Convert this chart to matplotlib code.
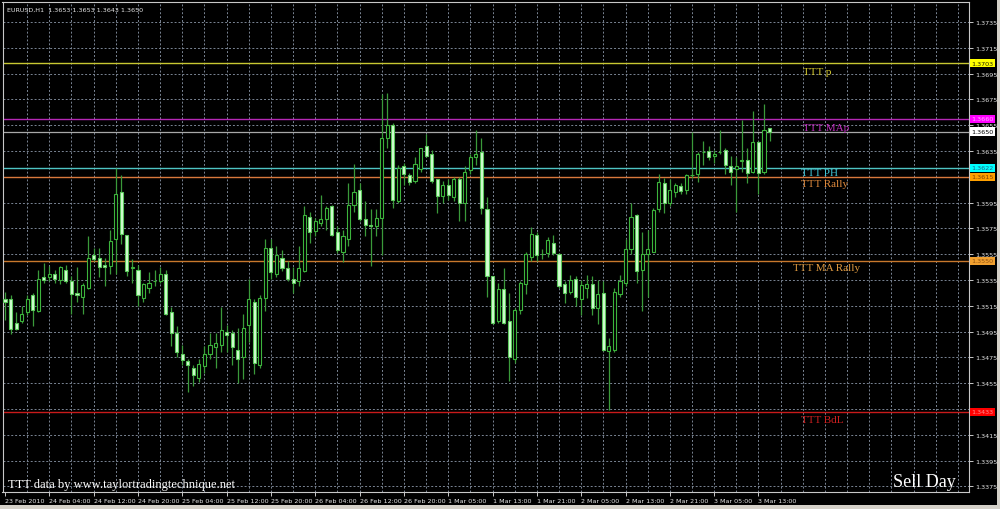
import matplotlib
matplotlib.use("Agg")
import matplotlib.pyplot as plt
import matplotlib.transforms as mtransforms
from matplotlib.patches import Rectangle

# EURUSD H1 bars (bar 0 = 23 Feb 20:00)
OPEN = [1.3520, 1.3520, 1.3502, 1.3503, 1.3510, 1.3523, 1.3511, 1.3537, 1.3537, 1.3540,
        1.3535, 1.3543, 1.3534, 1.3525, 1.3522, 1.3529, 1.3554, 1.3552, 1.3547, 1.3546,
        1.3567, 1.3603, 1.3570, 1.3544, 1.3543, 1.3521, 1.3529, 1.3534, 1.3534, 1.3540,
        1.3510, 1.3494, 1.3478, 1.3472, 1.3467, 1.3459, 1.3468, 1.3478, 1.3483, 1.3485,
        1.3495, 1.3494, 1.3481, 1.3475, 1.3500, 1.3518, 1.3469, 1.3521, 1.3560, 1.3540,
        1.3552, 1.3544, 1.3536, 1.3534, 1.3542, 1.3584, 1.3573, 1.3579, 1.3582, 1.3592,
        1.3572, 1.3557, 1.3567, 1.3593, 1.3605, 1.3582, 1.3578, 1.3577, 1.3583, 1.3645,
        1.3655, 1.3596, 1.3623, 1.3616, 1.3612, 1.3621, 1.3639, 1.3633, 1.3613, 1.3600,
        1.3609, 1.3599, 1.3613, 1.3595, 1.3620, 1.3630, 1.3634, 1.3590, 1.3538, 1.3503,
        1.3528, 1.3503, 1.3474, 1.3512, 1.3532, 1.3553, 1.3570, 1.3555, 1.3556, 1.3564,
        1.3555, 1.3532, 1.3526, 1.3536, 1.3520, 1.3529, 1.3532, 1.3513, 1.3525, 1.3480,
        1.3481, 1.3524, 1.3533, 1.3559, 1.3585, 1.3543, 1.3555, 1.3557, 1.3590, 1.3610,
        1.3595, 1.3603, 1.3608, 1.3605, 1.3616, 1.3617, 1.3634, 1.3635, 1.3631, 1.3634,
        1.3636, 1.3623, 1.3621, 1.3627, 1.3628, 1.3619, 1.3642, 1.3619, 1.3653]
HIGH = [1.3526, 1.3523, 1.3510, 1.3515, 1.3523, 1.3525, 1.3543, 1.3548, 1.3546, 1.3543,
        1.3546, 1.3547, 1.3538, 1.3545, 1.3533, 1.3569, 1.3560, 1.3560, 1.3552, 1.3574,
        1.3622, 1.3616, 1.3570, 1.3551, 1.3547, 1.3533, 1.3541, 1.3543, 1.3545, 1.3543,
        1.3514, 1.3499, 1.3485, 1.3474, 1.3469, 1.3474, 1.3484, 1.3494, 1.3494, 1.3514,
        1.3500, 1.3496, 1.3498, 1.3509, 1.3536, 1.3520, 1.3523, 1.3567, 1.3567, 1.3561,
        1.3558, 1.3550, 1.3545, 1.3561, 1.3592, 1.3588, 1.3583, 1.3601, 1.3592, 1.3593,
        1.3577, 1.3574, 1.3610, 1.3625, 1.3610, 1.3596, 1.3590, 1.3590, 1.3679, 1.3680,
        1.3657, 1.3624, 1.3626, 1.3618, 1.3630, 1.3637, 1.3648, 1.3636, 1.3613, 1.3612,
        1.3613, 1.3615, 1.3615, 1.3623, 1.3633, 1.3651, 1.3645, 1.3599, 1.3538, 1.3533,
        1.3544, 1.3525, 1.3513, 1.3534, 1.3557, 1.3576, 1.3572, 1.3559, 1.3568, 1.3570,
        1.3556, 1.3534, 1.3539, 1.3538, 1.3535, 1.3539, 1.3538, 1.3535, 1.3534, 1.3490,
        1.3529, 1.3539, 1.3567, 1.3595, 1.3586, 1.3572, 1.3574, 1.3591, 1.3617, 1.3614,
        1.3613, 1.3610, 1.3610, 1.3617, 1.3650, 1.3634, 1.3643, 1.3639, 1.3636, 1.3651,
        1.3637, 1.3631, 1.3630, 1.3659, 1.3637, 1.3666, 1.3643, 1.3671, 1.3653]
LOW = [1.3504, 1.3493, 1.3496, 1.3502, 1.3508, 1.3499, 1.3510, 1.3533, 1.3534, 1.3533,
       1.3532, 1.3533, 1.3509, 1.3518, 1.3509, 1.3528, 1.3550, 1.3537, 1.3530, 1.3540,
       1.3540, 1.3563, 1.3538, 1.3533, 1.3515, 1.3518, 1.3525, 1.3530, 1.3533, 1.3508,
       1.3484, 1.3475, 1.3469, 1.3448, 1.3453, 1.3456, 1.3463, 1.3474, 1.3467, 1.3479,
       1.3479, 1.3469, 1.3455, 1.3458, 1.3487, 1.3462, 1.3467, 1.3511, 1.3536, 1.3537,
       1.3542, 1.3534, 1.3525, 1.3530, 1.3541, 1.3564, 1.3569, 1.3577, 1.3574, 1.3569,
       1.3556, 1.3549, 1.3561, 1.3588, 1.3581, 1.3569, 1.3546, 1.3569, 1.3554, 1.3637,
       1.3591, 1.3595, 1.3609, 1.3609, 1.3610, 1.3619, 1.3630, 1.3610, 1.3587, 1.3595,
       1.3597, 1.3596, 1.3581, 1.3581, 1.3617, 1.3624, 1.3586, 1.3522, 1.3501, 1.3502,
       1.3501, 1.3457, 1.3471, 1.3509, 1.3524, 1.3550, 1.3550, 1.3551, 1.3553, 1.3554,
       1.3529, 1.3517, 1.3524, 1.3515, 1.3508, 1.3521, 1.3508, 1.3501, 1.3480, 1.3434,
       1.3479, 1.3522, 1.3530, 1.3555, 1.3533, 1.3511, 1.3522, 1.3557, 1.3588, 1.3587,
       1.3592, 1.3599, 1.3602, 1.3602, 1.3614, 1.3611, 1.3624, 1.3628, 1.3626, 1.3633,
       1.3617, 1.3609, 1.3588, 1.3619, 1.3610, 1.3618, 1.3602, 1.3617, 1.3643]
CLOSE = [1.3518, 1.3497, 1.3497, 1.3509, 1.3520, 1.3512, 1.3536, 1.3535, 1.3540, 1.3536,
         1.3545, 1.3534, 1.3524, 1.3523, 1.3531, 1.3552, 1.3551, 1.3545, 1.3545, 1.3565,
         1.3602, 1.3571, 1.3542, 1.3545, 1.3523, 1.3532, 1.3533, 1.3534, 1.3540, 1.3509,
         1.3494, 1.3479, 1.3473, 1.3469, 1.3461, 1.3470, 1.3478, 1.3485, 1.3486, 1.3496,
         1.3492, 1.3483, 1.3474, 1.3498, 1.3520, 1.3471, 1.3521, 1.3560, 1.3541, 1.3554,
         1.3544, 1.3536, 1.3533, 1.3544, 1.3585, 1.3572, 1.3581, 1.3582, 1.3591, 1.3570,
         1.3558, 1.3569, 1.3593, 1.3603, 1.3582, 1.3578, 1.3577, 1.3583, 1.3645, 1.3655,
         1.3597, 1.3622, 1.3617, 1.3611, 1.3625, 1.3637, 1.3631, 1.3612, 1.3600, 1.3609,
         1.3601, 1.3613, 1.3595, 1.3619, 1.3630, 1.3633, 1.3591, 1.3538, 1.3502, 1.3528,
         1.3502, 1.3475, 1.3512, 1.3533, 1.3555, 1.3571, 1.3554, 1.3555, 1.3566, 1.3556,
         1.3530, 1.3525, 1.3535, 1.3522, 1.3531, 1.3532, 1.3513, 1.3524, 1.3481, 1.3484,
         1.3526, 1.3534, 1.3559, 1.3584, 1.3542, 1.3555, 1.3559, 1.3589, 1.3611, 1.3595,
         1.3605, 1.3609, 1.3604, 1.3616, 1.3616, 1.3633, 1.3634, 1.3630, 1.3633, 1.3634,
         1.3624, 1.3619, 1.3623, 1.3628, 1.3618, 1.3642, 1.3618, 1.3651, 1.3650]

TIME_LABELS = ["23 Feb 2010", "24 Feb 04:00", "24 Feb 12:00", "24 Feb 20:00",
               "25 Feb 04:00", "25 Feb 12:00", "25 Feb 20:00", "26 Feb 04:00",
               "26 Feb 12:00", "26 Feb 20:00", "1 Mar 05:00", "1 Mar 13:00",
               "1 Mar 21:00", "2 Mar 05:00", "2 Mar 13:00", "2 Mar 21:00",
               "3 Mar 05:00", "3 Mar 13:00"]
PRICE_TICKS = [1.3375, 1.3395, 1.3415, 1.3435, 1.3455, 1.3475, 1.3495, 1.3515, 1.3535,
               1.3555, 1.3575, 1.3595, 1.3615, 1.3635, 1.3655, 1.3675, 1.3695, 1.3715, 1.3735]
HIDDEN_TICKS = [1.3435, 1.3615]   # fully covered by the level boxes in the screenshot

LEVEL_NAMES = ["TTT p", "TTT MAp", "TTT PH", "TTT Rally", "TTT MA Rally", "TTT BdL"]
LEVEL_PRICES = [1.3703, 1.3660, 1.3622, 1.3615, 1.3550, 1.3433]
LAST_PRICE = 1.3650
HEADER = "EURUSD,H1  1.3653 1.3653 1.3643 1.3650"

# styles
LINE_COL = ["#c8c832", "#b428b4", "#4ec4c4", "#d8783c", "#c8782c", "#c81a1a"]
TEXT_COL = ["#d8cc30", "#c030c0", "#40c8d8", "#e08a3c", "#e09a40", "#d02020"]
BOX_FC = ["#ffff00", "#ff00ff", "#00ffff", "#ffa000", "#f0a030", "#ff0000"]
BOX_TC = ["#202000", "#ffb0ff", "#206080", "#804000", "#905010", "#ff9090"]
TEXT_X = [144.0, 144.0, 143.6, 143.6, 142.3, 143.6]       # bar units
TEXT_DY = [-6.0, -6.2, -3.6, -5.0, -5.0, -5.8]            # points below the line
GRID = "#7a8594"
WICK = "#3a9a3a"
BULL_EDGE = "#3cb43c"
BEAR_FILL = "#d2ffd2"
SMALL = dict(family="DejaVu Sans", fontsize=4.6, color="#e6e6e6")

fig = plt.figure(figsize=(10, 5.1), dpi=100, facecolor="black")
ax = fig.add_axes([0.0025, 0.0333, 0.9665, 0.961], facecolor="black")
ax.set_xlim(-0.45, 174)
ax.set_ylim(1.33707, 1.37505)

for p in PRICE_TICKS:
    ax.axhline(p, color=GRID, lw=0.7, ls=(0, (2, 2)), zorder=0)
for x in range(4, 175, 4):
    ax.axvline(x, color=GRID, lw=0.7, ls=(0, (2, 2)), zorder=0)

n = len(OPEN)
xs = list(range(n))
up = [c >= o for o, c in zip(OPEN, CLOSE)]
bottoms = [min(o, c) for o, c in zip(OPEN, CLOSE)]
heights = [max(abs(c - o), 0.00004) for o, c in zip(OPEN, CLOSE)]
ax.vlines(xs, LOW, HIGH, color=WICK, lw=0.9, zorder=2)
ax.bar(xs, heights, bottom=bottoms, width=0.56,
       color=["black" if u else BEAR_FILL for u in up],
       edgecolor=[BULL_EDGE if u else "#5cc85c" for u in up], linewidth=0.8, zorder=3)

# TTT levels + current price line
ax.axhline(LAST_PRICE, color="#a8a8a8", lw=0.9, zorder=1)
for name, p, lc, tc, tx, dy in zip(LEVEL_NAMES, LEVEL_PRICES, LINE_COL, TEXT_COL, TEXT_X, TEXT_DY):
    ax.axhline(p, color=lc, lw=1.0, zorder=1)
    ax.annotate(name, (tx, p), xytext=(0, dy), textcoords="offset points",
                ha="left", va="center", color=tc, fontsize=8, family="Liberation Serif")

# axes look
for s in ax.spines.values():
    s.set_color("#c8c8c8")
    s.set_linewidth(0.8)
ax.yaxis.tick_right()
ax.set_yticks(PRICE_TICKS)
ax.set_yticklabels(["" if p in HIDDEN_TICKS else f"{p:.4f}" for p in PRICE_TICKS])
ax.set_xticks(list(range(0, n, 8)))
ax.set_xticklabels(TIME_LABELS)
ax.tick_params(axis="both", colors="#c8c8c8", length=3, width=0.7, labelsize=4.6,
               labelcolor="#e6e6e6", pad=1.5)
for lbl in ax.get_xticklabels():
    lbl.set_ha("left")

# coloured price boxes on the price scale
trans = mtransforms.blended_transform_factory(fig.transFigure, ax.transData)
boxes = list(zip(LEVEL_PRICES, BOX_FC, BOX_TC)) + [(LAST_PRICE, "#ffffff", "#000000")]
for p, fc, tc in boxes:
    ax.text(0.9715, p, f"{p:.4f}", transform=trans, ha="left", va="center",
            color=tc, family="DejaVu Sans", fontsize=4.6, zorder=6, clip_on=False,
            bbox=dict(boxstyle="square,pad=0.25", fc=fc, ec="none"))

fig.text(0.007, 1 - 10 / 510, HEADER, va="center", ha="left", **SMALL)
fig.text(0.008, 0.043, "TTT data by www.taylortradingtechnique.net", va="baseline",
         ha="left", color="white", fontsize=9, family="Liberation Serif")
fig.text(0.893, 0.045, "Sell Day", va="baseline", ha="left", color="white",
         fontsize=13, family="Liberation Serif")

# window chrome
fig.add_artist(Rectangle((0, 0), 1, 4 / 510, transform=fig.transFigure, fc="#d4d0c8", ec="none"))
fig.add_artist(Rectangle((0.997, 0), 0.003, 1, transform=fig.transFigure, fc="#d4d0c8", ec="none"))

fig.savefig("out.png", dpi=100, facecolor="black")
